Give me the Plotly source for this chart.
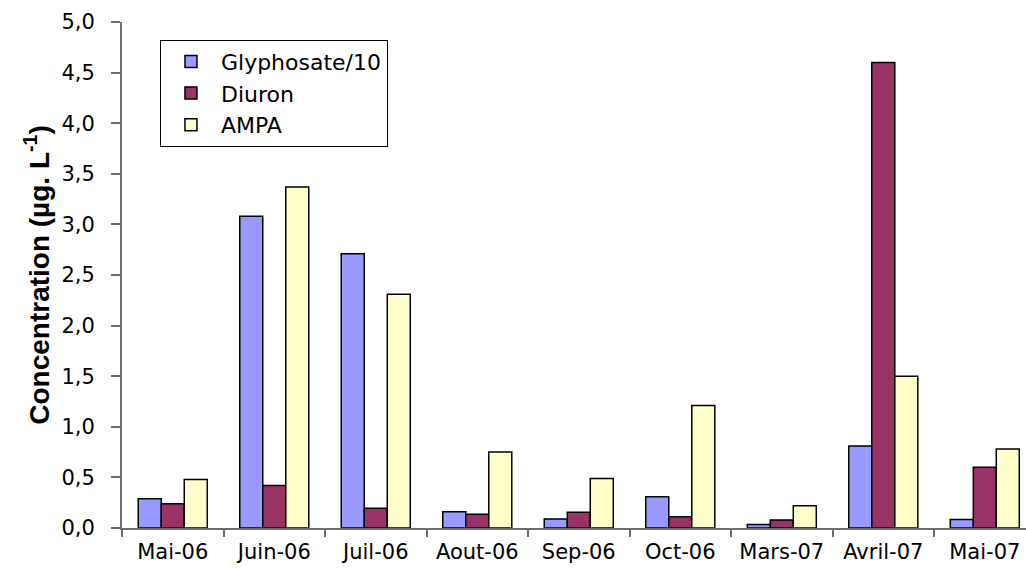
import plotly.graph_objects as go

# Monthly concentrations (µg/L); glyphosate is shown divided by 10
months = ["Mai-06", "Juin-06", "Juil-06", "Aout-06", "Sep-06",
          "Oct-06", "Mars-07", "Avril-07", "Mai-07"]
glyphosate_10 = [0.29, 3.08, 2.71, 0.16, 0.09, 0.31, 0.035, 0.81, 0.085]
diuron = [0.24, 0.42, 0.195, 0.135, 0.155, 0.11, 0.08, 4.60, 0.60]
ampa = [0.48, 3.37, 2.31, 0.75, 0.49, 1.21, 0.22, 1.50, 0.78]

series = [
    ("Glyphosate/10", glyphosate_10, "#9999FF"),
    ("Diuron", diuron, "#993366"),
    ("AMPA", ampa, "#FFFFCC"),
]

fig = go.Figure()
for name, vals, color in series:
    fig.add_trace(go.Bar(
        x=months, y=vals, name=name,
        marker=dict(color=color, line=dict(color="#000000", width=1.5)),
    ))

tick_font = dict(family="DejaVu Sans, Arial, sans-serif", size=21, color="#000000")

fig.update_layout(
    width=1026, height=568,
    margin=dict(l=122, r=0, t=22, b=40),
    paper_bgcolor="white", plot_bgcolor="white",
    barmode="group", bargap=0.32, bargroupgap=0,
    separators=", ",
    showlegend=True,
    legend=dict(
        x=0.042, y=0.965, xanchor="left", yanchor="top",
        bordercolor="#000000", borderwidth=1, bgcolor="white",
        font=dict(family="DejaVu Sans, Arial, sans-serif", size=22, color="#000000"),
        traceorder="normal", tracegroupgap=0,
        itemwidth=50,
    ),
    xaxis=dict(
        type="category", range=[-0.5, 8.406],
        showline=True, linecolor="#6e6e6e", linewidth=2,
        ticks="outside", tickson="boundaries", ticklen=7, tickcolor="#6e6e6e", tickwidth=1.5,
        tickfont=tick_font, ticklabelstandoff=4, showgrid=False, zeroline=False,
    ),
    yaxis=dict(
        range=[0, 5], dtick=0.5, tickformat=".1f",
        showline=True, linecolor="#6e6e6e", linewidth=2,
        ticks="outside", ticklen=9, tickcolor="#6e6e6e", tickwidth=1.5,
        ticklabelposition="outside", ticklabelstandoff=12,
        tickfont=tick_font, showgrid=False, zeroline=False,
        title=dict(
            text="<b>Concentration (µg. L<sup>-1</sup>)</b>",
            font=dict(family="Liberation Sans, Arial, sans-serif", size=28, color="#000000"),
            standoff=4,
        ),
    ),
)

fig.write_html("out.html")
